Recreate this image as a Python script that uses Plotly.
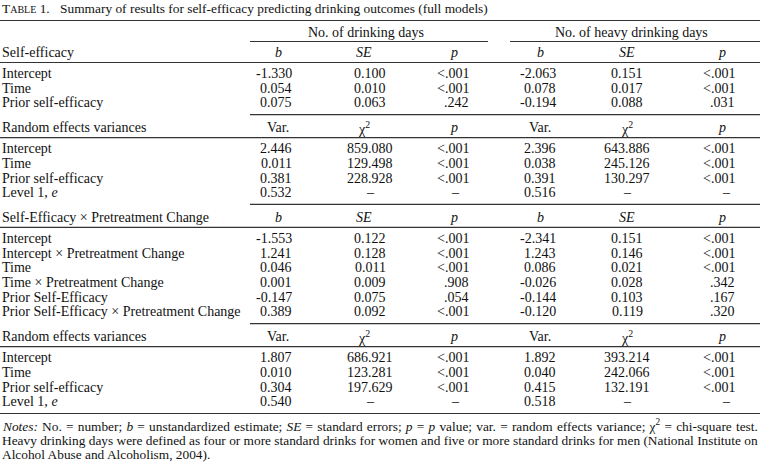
import plotly.graph_objects as go

# ---------------- data ----------------
title_label = "T<span style='font-size:10px'>ABLE</span> 1."
title_text = "Summary of results for self-efficacy predicting drinking outcomes (full models)"
group_titles = ["No. of drinking days", "No. of heavy drinking days"]

fixed_cols = ["<i>b</i>", "<i>SE</i>", "<i>p</i>"]
random_cols = ["Var.", "χ<sup>2</sup>", "<i>p</i>"]

sec_headers = ["Self-efficacy", "Random effects variances",
               "Self-Efficacy × Pretreatment Change", "Random effects variances"]

s1_labels = ["Intercept", "Time", "Prior self-efficacy"]
s1_drink_b = ["-1.330", "0.054", "0.075"]
s1_drink_se = ["0.100", "0.010", "0.063"]
s1_drink_p = ["<.001", "<.001", ".242"]
s1_heavy_b = ["-2.063", "0.078", "-0.194"]
s1_heavy_se = ["0.151", "0.017", "0.088"]
s1_heavy_p = ["<.001", "<.001", ".031"]

s2_labels = ["Intercept", "Time", "Prior self-efficacy", "Level 1, <i>e</i>"]
s2_drink_var = ["2.446", "0.011", "0.381", "0.532"]
s2_drink_chi = ["859.080", "129.498", "228.928", "–"]
s2_drink_p = ["<.001", "<.001", "<.001", "–"]
s2_heavy_var = ["2.396", "0.038", "0.391", "0.516"]
s2_heavy_chi = ["643.886", "245.126", "130.297", "–"]
s2_heavy_p = ["<.001", "<.001", "<.001", "–"]

s3_labels = ["Intercept", "Intercept × Pretreatment Change", "Time",
             "Time × Pretreatment Change", "Prior Self-Efficacy",
             "Prior Self-Efficacy × Pretreatment Change"]
s3_drink_b = ["-1.553", "1.241", "0.046", "0.001", "-0.147", "0.389"]
s3_drink_se = ["0.122", "0.128", "0.011", "0.009", "0.075", "0.092"]
s3_drink_p = ["<.001", "<.001", "<.001", ".908", ".054", "<.001"]
s3_heavy_b = ["-2.341", "1.243", "0.086", "-0.026", "-0.144", "-0.120"]
s3_heavy_se = ["0.151", "0.146", "0.021", "0.028", "0.103", "0.119"]
s3_heavy_p = ["<.001", "<.001", "<.001", ".342", ".167", ".320"]

s4_labels = ["Intercept", "Time", "Prior self-efficacy", "Level 1, <i>e</i>"]
s4_drink_var = ["1.807", "0.010", "0.304", "0.540"]
s4_drink_chi = ["686.921", "123.281", "197.629", "–"]
s4_drink_p = ["<.001", "<.001", "<.001", "–"]
s4_heavy_var = ["1.892", "0.040", "0.415", "0.518"]
s4_heavy_chi = ["393.214", "242.066", "132.191", "–"]
s4_heavy_p = ["<.001", "<.001", "<.001", "–"]

notes_lines = [
    "<i>Notes:</i> No. = number; <i>b</i> = unstandardized estimate; <i>SE</i> = standard errors; "
    "<i>p</i> = <i>p</i> value; var. = random effects variance; χ<sup>2</sup> = chi-square test.",
    "Heavy drinking days were defined as four or more standard drinks for women and five or more "
    "standard drinks for men (National Institute on",
    "Alcohol Abuse and Alcoholism, 2004).",
]

# ---------------- layout constants ----------------
W, H = 760, 465
FONT = "Liberation Serif, Times New Roman, serif"
FS = 14
FS_TITLE = 13.4
FS_NOTE = 13.35
NOTE_WORD_SPACING = ["0.9px", "0px", "0px"]
TXT = "#111111"
LINE = "#333333"

# column geometry: (header center, value anchor x, value xanchor)
groups = [
    dict(b=(278, 294, "right"), se=(364, 370, "center"), p=(454, 471, "right"),
         dash_p=455, title_x=366, rule=(250, 488)),
    dict(b=(540, 558, "right"), se=(627, 627, "center"), p=(722, 737, "right"),
         dash_p=726, title_x=631, rule=(510, 760)),
]

sections = [
    dict(cols=fixed_cols, labels=s1_labels,
         data=[(s1_drink_b, s1_drink_se, s1_drink_p), (s1_heavy_b, s1_heavy_se, s1_heavy_p)]),
    dict(cols=random_cols, labels=s2_labels,
         data=[(s2_drink_var, s2_drink_chi, s2_drink_p), (s2_heavy_var, s2_heavy_chi, s2_heavy_p)]),
    dict(cols=fixed_cols, labels=s3_labels,
         data=[(s3_drink_b, s3_drink_se, s3_drink_p), (s3_heavy_b, s3_heavy_se, s3_heavy_p)]),
    dict(cols=random_cols, labels=s4_labels,
         data=[(s4_drink_var, s4_drink_chi, s4_drink_p), (s4_heavy_var, s4_heavy_chi, s4_heavy_p)]),
]

annotations = []
shapes = []


def text(x, y, s, anchor="left", size=FS):
    annotations.append(dict(x=x, y=y, xref="x", yref="y", text=s, showarrow=False,
                            xanchor=anchor, yanchor="middle",
                            font=dict(family=FONT, size=size, color=TXT)))


def hline(x0, x1, y, w=1.1):
    shapes.append(dict(type="line", xref="x", yref="y", x0=x0, x1=x1, y0=y, y1=y,
                       line=dict(color=LINE, width=w)))


# title
text(0, 8, title_label, size=FS_TITLE)
text(58, 8, title_text, size=FS_TITLE)
hline(0, W, 20.5)

# group titles
for g, t in zip(groups, group_titles):
    text(g["title_x"], 32, t, anchor="center")
    hline(g["rule"][0], g["rule"][1], 41.5)

ROW = 14.7
y = 52.5
for si, sec in enumerate(sections):
    if si > 0:
        hline(250, W, y - 13)
    # header row
    text(0, y, sec_headers[si])
    for g in groups:
        for key, lab in zip(["b", "se", "p"], sec["cols"]):
            text(g[key][0], y, lab, anchor="center")
    hline(0, W, y + 10)
    y += 21
    for ri, lab in enumerate(sec["labels"]):
        text(0, y, lab)
        for g, (c1, c2, c3) in zip(groups, sec["data"]):
            text(g["b"][1], y, c1[ri], anchor=g["b"][2])
            text(g["se"][1], y, c2[ri], anchor=g["se"][2])
            if c3[ri] == "–":
                text(g["dash_p"], y, c3[ri], anchor="center")
            else:
                text(g["p"][1], y, c3[ri], anchor=g["p"][2])
        y += ROW
    y += 10

hline(0, W, 413.5)
for i, ln in enumerate(notes_lines):
    styled = "<span style='word-spacing:%s'>%s</span>" % (NOTE_WORD_SPACING[i], ln)
    text(0, 425.5 + i * 14.5, styled, size=FS_NOTE)

fig = go.Figure()
fig.update_layout(
    width=W, height=H, margin=dict(l=0, r=0, t=0, b=0),
    paper_bgcolor="white", plot_bgcolor="white",
    xaxis=dict(range=[0, W], visible=False, fixedrange=True),
    yaxis=dict(range=[H, 0], visible=False, fixedrange=True),
    annotations=annotations, shapes=shapes, showlegend=False,
)
fig.write_html("out.html", config=dict(displayModeBar=False),
               post_script="document.body.style.margin='0';")
